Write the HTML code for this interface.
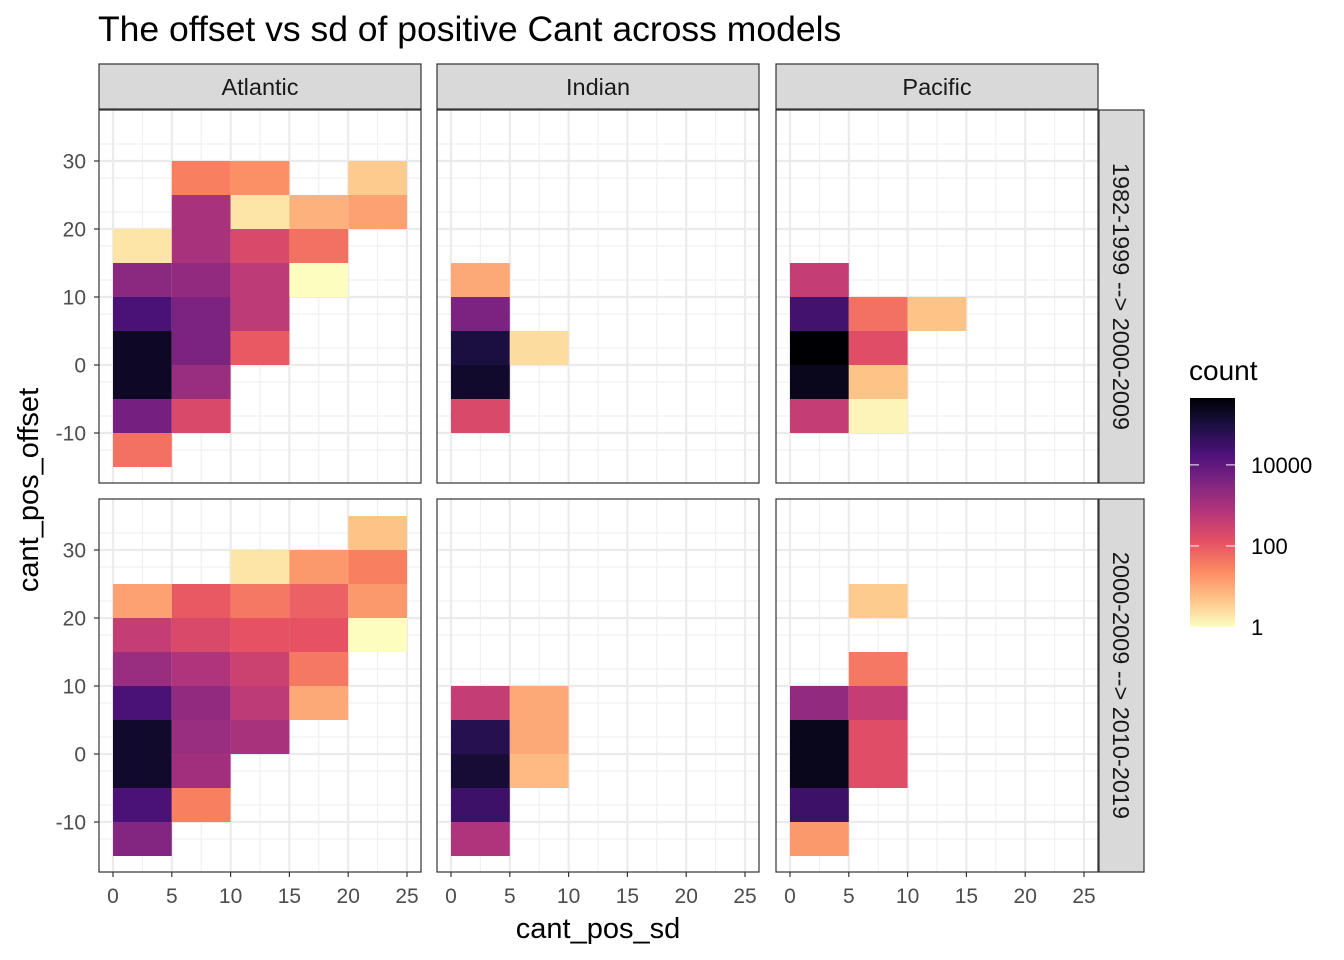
<!DOCTYPE html>
<html><head><meta charset="utf-8"><style>
html,body{margin:0;padding:0;background:#fff;}
svg{display:block;font-family:"Liberation Sans",sans-serif;}
</style></head><body>
<svg id="chart" width="1344" height="960" viewBox="0 0 1344 960">
<defs>
<linearGradient id="cbar" x1="0" y1="1" x2="0" y2="0">
<stop offset="0" stop-color="#fcfdbf"/><stop offset="0.125" stop-color="#fec287"/><stop offset="0.25" stop-color="#fb8761"/><stop offset="0.375" stop-color="#e55064"/><stop offset="0.5" stop-color="#b5367a"/><stop offset="0.625" stop-color="#812581"/><stop offset="0.75" stop-color="#4f127b"/><stop offset="0.875" stop-color="#1c1044"/><stop offset="1" stop-color="#000004"/>
</linearGradient>
</defs>
<text x="98" y="41" font-size="35.5" fill="#000">The offset vs sd of positive Cant across models</text>
<text x="598" y="938" font-size="29" text-anchor="middle" fill="#000">cant_pos_sd</text>
<text transform="translate(38,490) rotate(-90)" font-size="29" text-anchor="middle" fill="#000">cant_pos_offset</text>
<g>
<text x="1189" y="380" font-size="28" fill="#000">count</text>
<rect x="1190" y="398" width="45" height="229" fill="url(#cbar)"/>
<g id="legTicks"></g>
</g>
<g id="panels"></g>
</svg>
<script>
// data: tiles as [xBinStart, yBinStart, log10(count)]
const tilesAtlanticTop = [[5,25,1.5],[10,25,1.3],[20,25,0.6],[5,20,3.0],[10,20,0.3],[15,20,0.9],[20,20,1.1],[0,15,0.3],[5,15,3.0],[10,15,2.3],[15,15,1.7],[0,10,3.4],[5,10,3.3],[10,10,2.7],[15,10,0.0],[0,5,4.3],[5,5,3.6],[10,5,2.7],[0,0,5.3],[5,0,3.6],[10,0,2.0],[0,-5,5.3],[5,-5,3.2],[0,-10,3.7],[5,-10,2.3],[0,-15,1.7]];
const tilesIndianTop = [[0,10,1.0],[0,5,3.6],[0,0,5.0],[5,0,0.4],[0,-5,5.2],[0,-10,2.3]];
const tilesPacificTop = [[0,10,2.6],[0,5,4.4],[5,5,1.7],[10,5,0.7],[0,0,5.65],[5,0,2.2],[0,-5,5.4],[5,-5,0.7],[0,-10,2.6],[5,-10,0.1]];
const tilesAtlanticBottom = [[20,30,0.7],[10,25,0.3],[15,25,1.2],[20,25,1.5],[0,20,1.1],[5,20,2.0],[10,20,1.6],[15,20,1.9],[20,20,1.2],[0,15,2.6],[5,15,2.3],[10,15,2.1],[15,15,2.1],[20,15,0.0],[0,10,3.2],[5,10,2.9],[10,10,2.5],[15,10,1.6],[0,5,4.3],[5,5,3.3],[10,5,2.7],[15,5,1.0],[0,0,5.2],[5,0,3.2],[10,0,3.0],[0,-5,5.2],[5,-5,3.1],[0,-10,4.3],[5,-10,1.5],[0,-15,3.5]];
const tilesIndianBottom = [[0,5,2.6],[5,5,1.0],[0,0,4.8],[5,0,1.0],[0,-5,5.1],[5,-5,0.8],[0,-10,4.5],[0,-15,2.9]];
const tilesPacificBottom = [[5,20,0.6],[5,10,1.6],[0,5,3.3],[5,5,2.6],[0,0,5.4],[5,0,2.2],[0,-5,5.4],[5,-5,2.2],[0,-10,4.5],[0,-15,1.2]];
const xTicks = [0,5,10,15,20,25];
const yTicks = [-10,0,10,20,30];
const colNames = ["Atlantic","Indian","Pacific"];
const rowNames = ["1982-1999 --> 2000-2009","2000-2009 --> 2010-2019"];
const legendTicks = [1,100,10000];
const logMax = 5.65;

const NS="http://www.w3.org/2000/svg";
const stops=["#000004","#1c1044","#4f127b","#812581","#b5367a","#e55064","#fb8761","#fec287","#fcfdbf"];
function hex(h){return [1,3,5].map(i=>parseInt(h.substr(i,2),16));}
function color(lg){let t=1-Math.max(0,Math.min(1,lg/logMax));let p=t*8,i=Math.min(7,Math.floor(p)),f=p-i;
 const a=hex(stops[i]),b=hex(stops[i+1]);return "rgb("+a.map((v,k)=>Math.round(v+(b[k]-v)*f)).join(",")+")";}
function mk(tag,attrs,parent,txt){const e=document.createElementNS(NS,tag);for(const k in attrs)e.setAttribute(k,attrs[k]);if(txt!==undefined)e.textContent=txt;parent.appendChild(e);return e;}
const root=document.getElementById("panels");
const colX=[99,437,776], pw=322, rowY=[110,499], ph=373;
const xMin=-1.19,xMax=26.19,yMin=-17.35,yMax=37.5;
const tileSets=[[tilesAtlanticTop,tilesIndianTop,tilesPacificTop],[tilesAtlanticBottom,tilesIndianBottom,tilesPacificBottom]];
for(let r=0;r<2;r++)for(let c=0;c<3;c++){
 const x0=colX[c],y0=rowY[r];
 const sx=v=>x0+(v-xMin)/(xMax-xMin)*pw, sy=v=>y0+ph-(v-yMin)/(yMax-yMin)*ph;
 const g=mk("g",{},root);
 
 
 mk("rect",{x:x0,y:y0,width:pw,height:ph,fill:"#fff"},g);
 for(let v=-12.5;v<=35;v+=5)mk("line",{x1:x0,x2:x0+pw,y1:sy(v),y2:sy(v),stroke:"#f0f0f0","stroke-width":1.2},g);
 for(let v=2.5;v<=25;v+=5)mk("line",{y1:y0,y2:y0+ph,x1:sx(v),x2:sx(v),stroke:"#f0f0f0","stroke-width":1.2},g);
 yTicks.forEach(v=>mk("line",{x1:x0,x2:x0+pw,y1:sy(v),y2:sy(v),stroke:"#ebebeb","stroke-width":2.2},g));
 xTicks.forEach(v=>mk("line",{y1:y0,y2:y0+ph,x1:sx(v),x2:sx(v),stroke:"#ebebeb","stroke-width":2.2},g));
 tileSets[r][c].forEach(d=>{
  const t=mk("rect",{x:sx(d[0]),y:sy(d[1]+5),width:sx(d[0]+5)-sx(d[0]),height:sy(d[1])-sy(d[1]+5),fill:color(d[2])},g);
  
  
 });
 mk("rect",{x:x0,y:y0,width:pw,height:ph,fill:"none",stroke:"#333","stroke-width":1.2},g);
 if(c===0){yTicks.forEach(v=>{mk("line",{x1:x0-5,x2:x0,y1:sy(v),y2:sy(v),stroke:"#333","stroke-width":1.2},g);
  const tl=mk("text",{x:x0-13,y:sy(v)+7.5,"font-size":21,"text-anchor":"end",fill:"#4d4d4d"},g,String(v));
  
  });}
 if(r===1){xTicks.forEach(v=>{mk("line",{y1:y0+ph,y2:y0+ph+5,x1:sx(v),x2:sx(v),stroke:"#333","stroke-width":1.2},g);
  const tl=mk("text",{x:sx(v),y:y0+ph+31,"font-size":21,"text-anchor":"middle",fill:"#4d4d4d"},g,String(v));
  
  });}
 if(r===0){const s=mk("g",{},g);
  
  
  mk("rect",{x:x0,y:64,width:pw,height:45,fill:"#d9d9d9",stroke:"#333","stroke-width":1.2},s);
  mk("text",{x:x0+pw/2,y:95,"font-size":23.5,"text-anchor":"middle",fill:"#1a1a1a"},s,colNames[c]);}
 if(c===2){const s=mk("g",{},g);
  
  
  mk("rect",{x:1099,y:y0,width:45,height:ph,fill:"#d9d9d9",stroke:"#333","stroke-width":1.2},s);
  mk("text",{transform:"translate(1113,"+(y0+ph/2)+") rotate(90)","font-size":23.5,"text-anchor":"middle",fill:"#1a1a1a"},s,rowNames[r]);}
}
const lg=document.getElementById("legTicks");
legendTicks.forEach(v=>{const y=627-Math.log10(v)/logMax*229;
 mk("line",{x1:1190,x2:1199,y1:y,y2:y,stroke:"#fff","stroke-width":1.2,opacity:0.8},lg);
 mk("line",{x1:1226,x2:1235,y1:y,y2:y,stroke:"#fff","stroke-width":1.2,opacity:0.8},lg);
 const t=mk("text",{x:1251,y:y+8,"font-size":22,fill:"#000"},lg,String(v));
 
 
});
</script>
</body></html>
